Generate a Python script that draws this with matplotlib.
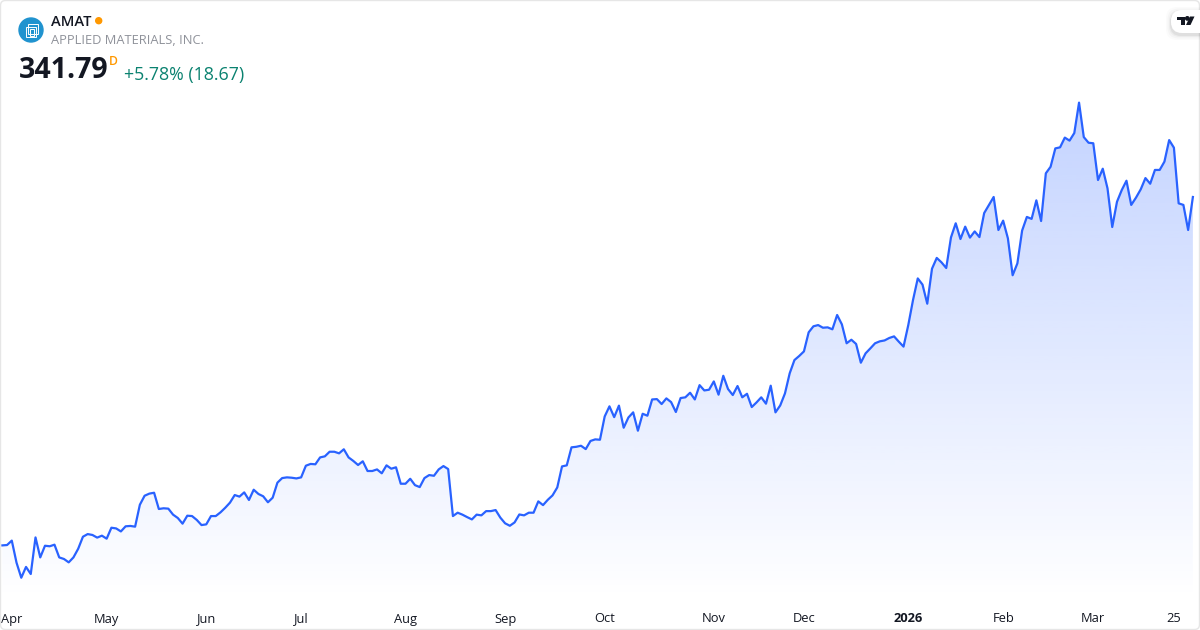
import numpy as np
import matplotlib
matplotlib.use('Agg')
import matplotlib.pyplot as plt
from matplotlib.patches import Circle, FancyBboxPatch, Polygon, Rectangle
from matplotlib.colors import to_rgb

plt.rcParams['font.family'] = ['Open Sans', 'DejaVu Sans']

# daily closes
closes_q2 = [144.6, 144.8, 147.3, 134.8, 126.3, 132.4, 128.4, 149.1, 137.8, 144.4, 144.1, 145.0,
             137.8, 136.9, 135.0, 137.8, 142.7, 149.5, 151.0, 150.5, 149.0, 150.1, 148.4, 154.6,
             154.2, 152.5, 155.4, 155.6, 155.2, 167.6, 172.7, 173.9, 174.4, 165.2, 165.6, 165.4,
             162.0, 160.1, 156.9, 161.4, 161.2, 159.0, 156.1, 156.5, 161.2, 161.2, 163.3, 165.9,
             168.8, 173.1, 172.2, 174.6, 170.3, 176.1, 173.7, 172.4, 169.0, 171.6, 180.1, 182.7,
             183.1, 182.9, 182.5, 183.1]
closes_q3 = [189.7, 190.7, 190.5, 194.4, 195.0, 197.6, 197.6, 196.7, 199.0, 194.4, 192.4, 190.1,
             192.2, 186.7, 186.7, 187.6, 185.4, 189.9, 188.0, 188.8, 179.5, 179.5, 182.3, 178.7,
             177.6, 182.7, 184.4, 184.0, 187.6, 189.5, 187.8, 161.2, 163.1, 162.0, 160.6, 159.3,
             162.0, 161.6, 164.0, 164.0, 164.6, 160.3, 157.1, 155.7, 157.6, 162.1, 161.6, 163.1,
             163.1, 169.5, 167.4, 170.4, 172.9, 177.4, 189.3, 189.9, 200.1, 200.4, 201.0, 199.1,
             203.7, 204.6, 204.4]
closes_q4 = [217.6, 223.3, 217.2, 223.7, 211.2, 217.0, 219.9, 209.5, 219.1, 218.0, 227.2, 227.4,
             224.6, 227.8, 225.7, 220.1, 228.0, 228.4, 231.0, 227.2, 235.3, 232.3, 232.7, 237.4,
             229.9, 240.6, 233.1, 229.7, 234.8, 228.4, 230.4, 222.9, 225.5, 228.4, 224.8, 235.0,
             219.9, 223.8, 230.6, 242.0, 249.5, 251.8, 254.4, 265.2, 268.6, 269.3, 267.8, 268.0,
             266.9, 275.0, 269.7, 259.0, 261.0, 258.6, 248.0, 253.3, 256.1, 259.0, 260.1, 260.6,
             262.0, 262.9, 259.9]
closes_q1 = [257.1, 269.3, 283.5, 295.7, 292.2, 281.4, 301.2, 307.3, 304.8, 301.6, 318.9, 326.9,
             318.0, 325.0, 318.8, 322.3, 319.1, 332.7, 337.2, 341.8, 323.1, 328.4, 318.4, 297.5,
             304.2, 322.8, 330.5, 329.4, 339.9, 328.2, 355.2, 358.9, 369.3, 369.9, 375.4, 373.7,
             378.0, 395.2, 375.7, 372.5, 372.2, 351.4, 357.8, 346.7, 324.8, 339.1, 345.7, 351.0,
             337.3, 341.4, 346.1, 352.5, 349.3, 357.1, 357.1, 361.8, 374.0, 369.7, 338.2, 337.3,
             323.12, 341.79]
closes = closes_q2 + closes_q3 + closes_q4 + closes_q1

tick_positions = [2, 22, 43, 63, 85, 106, 127, 150, 169, 191, 211, 230, 247]
tick_labels = ['Apr', 'May', 'Jun', 'Jul', 'Aug', 'Sep', 'Oct', 'Nov', 'Dec', '2026', 'Feb', 'Mar', '25']

line_color = '#2962FF'
text_color = '#131722'

fig = plt.figure(figsize=(12, 6.3), dpi=100)
fig.patch.set_facecolor('white')

ax = fig.add_axes([0, 30 / 630, 1, 600 / 630])
days = np.arange(len(closes))
x_range = (-0.485, 252.5)
y_range = (113.69, 453.29)

# gradient fill under the line
rgb = to_rgb(line_color)
grad = np.zeros((256, 1, 4))
grad[:, :, 0], grad[:, :, 1], grad[:, :, 2] = rgb
grad[:, :, 3] = np.linspace(0.28, 0.0, 256).reshape(-1, 1)
im = ax.imshow(grad, aspect='auto', origin='upper', interpolation='bilinear',
               extent=[days[0], days[-1], y_range[0], max(closes)], zorder=1)
ax.set_xlim(*x_range)
ax.set_ylim(*y_range)
poly = ax.fill_between(days, closes, y_range[0], color='none')
im.set_clip_path(poly.get_paths()[0], transform=ax.transData)

ax.plot(days, closes, color=line_color, lw=1.6, zorder=2, solid_joinstyle='round')

ax.set_xticks(tick_positions)
ax.set_xticklabels(tick_labels, fontsize=9.3, color=text_color)
ax.get_xticklabels()[9].set_fontweight('bold')
ax.tick_params(axis='x', length=0, pad=9)
ax.set_yticks([])
for s in ax.spines.values():
    s.set_visible(False)
ax.patch.set_alpha(0)

# header, logo and frame
ov = fig.add_axes([0, 0, 1, 1], facecolor='none')
ov.set_xlim(0, 1200)
ov.set_ylim(630, 0)
ov.axis('off')

ov.add_patch(FancyBboxPatch((0.5, 0.5), 1199, 629, boxstyle='round,pad=0,rounding_size=5',
                            fc='none', ec='#e6e6e6', lw=1))
ov.add_patch(Circle((31, 30), 12, color='#2093cf'))
ov.add_patch(Rectangle((25.5, 26.5), 10, 10, fc='none', ec='white', lw=0.7))
ov.add_patch(Rectangle((28, 24), 10, 10, fc='none', ec='white', lw=0.7))
ov.add_patch(Rectangle((30, 29), 3.5, 7, fc='none', ec='white', lw=0.7))

ov.text(51, 21.5, 'AMAT', fontsize=10.6, fontweight='semibold', color=text_color, va='center')
ov.add_patch(Circle((98.7, 20.7), 3, color='#FF9800'))
ov.text(51, 41, 'APPLIED MATERIALS, INC.', fontsize=9.3, color='#8f929a', va='center')
ov.text(19, 71, '341.79', fontsize=20.5, fontweight='bold', color=text_color, va='center')
ov.text(109, 61.5, 'D', fontsize=8.8, fontweight='semibold', color='#FF9800', va='center')
ov.text(124, 75, '+5.78% (18.67)', fontsize=12.8, color='#0b8270', va='center')

# watermark pill
for grow, a in [(5, 0.015), (3.5, 0.025), (2, 0.035), (1, 0.05)]:
    ov.add_patch(FancyBboxPatch((1171 - grow, 10 + 2 - grow), 40 + 2 * grow, 23 + 2 * grow,
                                boxstyle='round,pad=0,rounding_size=11',
                                fc='black', ec='none', alpha=a))
ov.add_patch(FancyBboxPatch((1171, 10), 40, 23, boxstyle='round,pad=0,rounding_size=11',
                            fc='white', ec='none'))
ov.add_patch(Polygon([(1177, 16.5), (1184.5, 16.5), (1184.5, 25), (1181, 25), (1181, 20), (1177, 20)],
                     fc='#131722', ec='none'))
ov.add_patch(Circle((1187.3, 18.4), 1.7, color='#131722'))
ov.add_patch(Polygon([(1190, 16.5), (1194.5, 16.5), (1190.5, 25), (1186, 25)], fc='#131722', ec='none'))

fig.savefig('out.png', dpi=100)
